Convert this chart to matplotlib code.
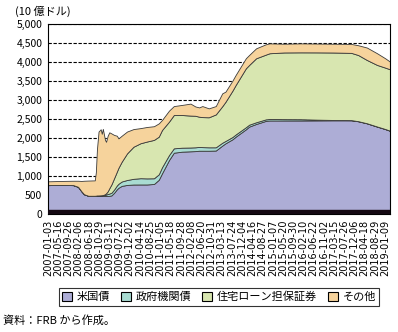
import matplotlib
matplotlib.use("Agg")
import matplotlib.pyplot as plt
import pandas as pd

plt.rcParams['font.family'] = ['Noto Sans CJK JP', 'DejaVu Sans']

# FRB保有資産の内訳（10億ドル、週次から抜粋）
dates = ["2007-01-03", "2007-06-27", "2007-11-28", "2008-01-30", "2008-03-12",
         "2008-04-16", "2008-06-11", "2008-09-03", "2008-09-17", "2008-10-01",
         "2008-10-22", "2008-11-19", "2008-12-03", "2008-12-17", "2009-01-14",
         "2009-01-28", "2009-02-18", "2009-03-11", "2009-04-08", "2009-05-13",
         "2009-06-17", "2009-07-08", "2009-08-19", "2009-10-28", "2010-01-20",
         "2010-04-21", "2010-07-14", "2010-10-13", "2010-12-15", "2011-01-26",
         "2011-04-27", "2011-06-29", "2011-10-12", "2012-02-01", "2012-04-04",
         "2012-05-23", "2012-07-04", "2012-09-26", "2012-12-26", "2013-03-20",
         "2013-05-01", "2013-07-31", "2013-09-11", "2014-01-22", "2014-03-05",
         "2014-06-04", "2014-10-08", "2014-11-26", "2015-06-03", "2016-01-06",
         "2016-08-03", "2017-03-01", "2017-10-25", "2018-01-24", "2018-05-16",
         "2018-09-26", "2019-01-09", "2019-03-13"]

treasury = [760, 765, 760, 715, 600, 520, 480, 480, 480, 480,
            476, 476, 476, 476, 476, 476, 476, 478, 490, 560,
            650, 690, 740, 765, 776, 777, 777, 790, 900, 1070,
            1420, 1613, 1640, 1650, 1655, 1665, 1665, 1665, 1670, 1800,
            1860, 1966, 2035, 2229, 2300, 2369, 2450, 2461, 2461, 2461,
            2463, 2465, 2465, 2440, 2386, 2300, 2235, 2190]

agency = [0, 0, 0, 0, 0, 0, 0, 0, 3, 8,
          12, 15, 18, 22, 30, 35, 50, 60, 70, 85,
          100, 105, 115, 130, 150, 165, 160, 150, 145, 160,
          130, 115, 105, 100, 100, 100, 95, 90, 85, 75,
          62, 60, 58, 55, 50, 45, 40, 39, 35, 33,
          20, 10, 5, 2.4, 2.4, 2.4, 2.4, 2.4]

mbs = [0, 0, 0, 0, 0, 0, 0, 0, 0, 0,
       0, 0, 0, 0, 15, 35, 70, 140, 220, 300,
       363, 420, 520, 700, 845, 920, 970, 1010, 990, 980,
       880, 877, 860, 840, 830, 795, 790, 790, 865, 960,
       1030, 1220, 1302, 1551, 1572, 1684, 1704, 1730, 1755, 1760,
       1770, 1775, 1770, 1740, 1665, 1620, 1615, 1615]

other = [100, 105, 115, 160, 270, 355, 400, 405, 617, 1212,
         1682, 1739, 1616, 1742, 1429, 1354, 1464, 1472, 1340, 1135,
         947, 775, 685, 575, 464, 398, 383, 360, 350, 265,
         290, 235, 265, 315, 245, 245, 290, 235, 220, 340,
         268, 264, 265, 265, 263, 262, 272, 260, 229, 236,
         232, 230, 235, 258, 327, 307, 246, 202]

labels = ["米国債", "政府機関債", "住宅ローン担保証券", "その他"]
colors = ["#adadd6", "#a9dcd2", "#d8e6b0", "#f6d39c"]

tick_dates = ["2007-01-03", "2007-05-16", "2007-09-26", "2008-02-06", "2008-06-18",
              "2008-10-29", "2009-03-11", "2009-07-22", "2009-12-02", "2010-04-14",
              "2010-08-25", "2011-01-05", "2011-05-18", "2011-09-28", "2012-02-08",
              "2012-06-20", "2012-10-31", "2013-03-13", "2013-07-24", "2013-12-04",
              "2014-04-16", "2014-08-27", "2015-01-07", "2015-05-20", "2015-09-30",
              "2016-02-10", "2016-06-22", "2016-11-02", "2017-03-15", "2017-07-26",
              "2017-12-06", "2018-04-18", "2018-08-29", "2019-01-09"]

x = pd.to_datetime(dates)

fig = plt.figure(figsize=(3.98, 3.32), dpi=100)
ax = fig.add_axes([48 / 398, 1 - 214 / 332, 342 / 398, 190 / 332])

ax.stackplot(x, treasury, agency, mbs, other, colors=colors, labels=labels,
             edgecolor="#3a3a3a", linewidth=0.6, zorder=2)

# 太い下端の帯
ax.axhspan(0, 115, color="#140812", zorder=3)

ax.set_xlim(x[0], x[-1])
ax.set_ylim(0, 5000)
ax.set_yticks(range(0, 5001, 500))
ax.set_yticklabels([f"{v:,}" for v in range(0, 5001, 500)], fontsize=7.5)
ax.yaxis.grid(True, color="black", linestyle=(0, (3, 1.5)), linewidth=0.8, zorder=1)
ax.set_axisbelow(True)

ax.set_xticks(pd.to_datetime(tick_dates))
ax.set_xticklabels(tick_dates, rotation=90, fontsize=7, family="DejaVu Sans")
ax.tick_params(axis="both", length=0)
ax.tick_params(axis="x", pad=4)
ax.tick_params(axis="y", pad=4)

for s in ax.spines.values():
    s.set_color("black")
    s.set_linewidth(0.8)

fig.text(15 / 398, 1 - 11 / 332, "(10 億ドル)", fontsize=8, va="center", ha="left")

leg = fig.legend(loc="center", bbox_to_anchor=(219 / 398, 1 - 297 / 332), ncol=4,
                 fontsize=8, frameon=True, fancybox=False, edgecolor="black",
                 handlelength=0.9, handleheight=0.9, handletextpad=0.4,
                 columnspacing=1.0, borderpad=0.3)
leg.get_frame().set_linewidth(0.8)
for h in leg.legend_handles:
    h.set_edgecolor("black")
    h.set_linewidth(0.8)

fig.text(3 / 398, 1 - 320 / 332, "資料：FRB から作成。", fontsize=8, va="center", ha="left")

fig.savefig("out.png", dpi=100)
